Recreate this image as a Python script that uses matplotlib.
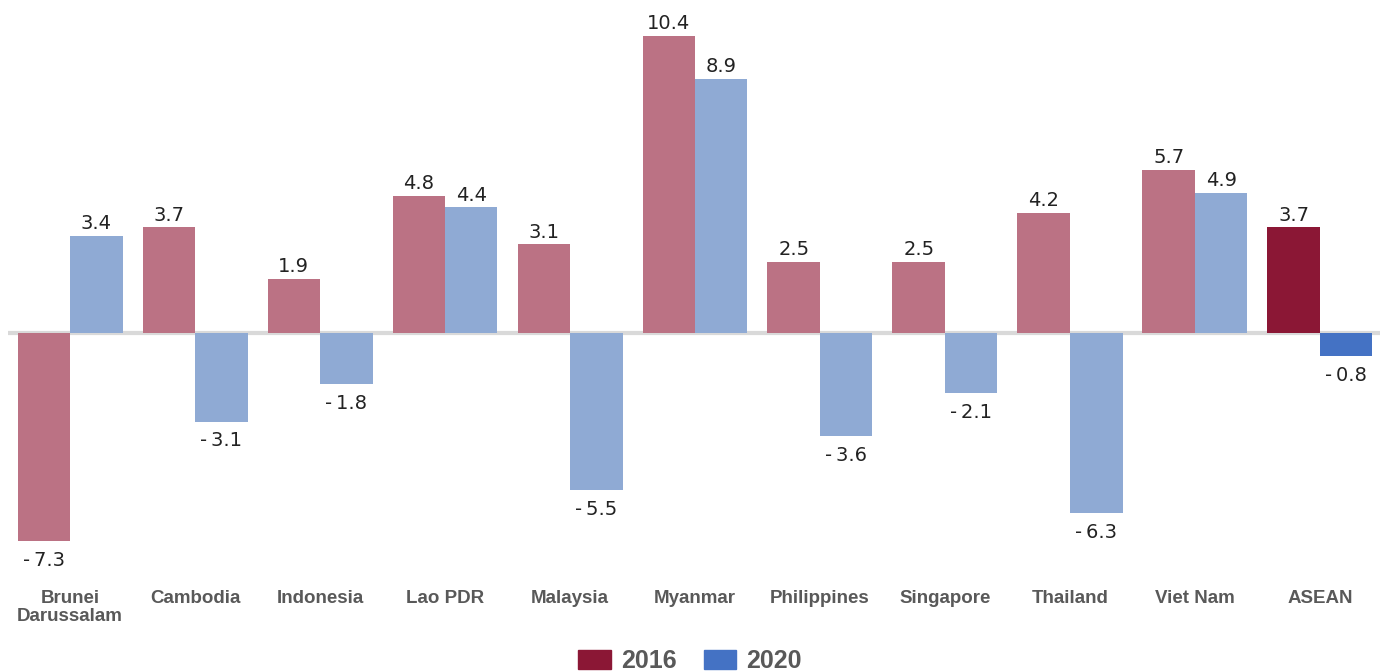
import numpy as np
import matplotlib.pyplot as plt
from matplotlib import font_manager
from matplotlib.patches import Patch

countries = ['Brunei\nDarussalam', 'Cambodia', 'Indonesia', 'Lao PDR', 'Malaysia',
             'Myanmar', 'Philippines', 'Singapore', 'Thailand', 'Viet Nam', 'ASEAN']
v2016 = [-7.3, 3.7, 1.9, 4.8, 3.1, 10.4, 2.5, 2.5, 4.2, 5.7, 3.7]
v2020 = [3.4, -3.1, -1.8, 4.4, -5.5, 8.9, -3.6, -2.1, -6.3, 4.9, -0.8]

red_light, red_dark = '#bb7284', '#8b1735'
blue_light, blue_dark = '#8faad4', '#4472c4'

# narrow font for the category labels if one is around
installed = {f.name for f in font_manager.fontManager.ttflist}
label_font = 'Liberation Sans Narrow' if 'Liberation Sans Narrow' in installed else 'Liberation Sans'
label_size = 15 if label_font == 'Liberation Sans Narrow' else 13.5

fig = plt.figure(figsize=(13.8, 6.71), dpi=100)
ax = fig.add_axes([7.5 / 1380, 1 - 560 / 671, 1375 / 1380, 560 / 671])

x = np.arange(len(countries))
w = 0.42
c16 = [red_light] * (len(countries) - 1) + [red_dark]
c20 = [blue_light] * (len(countries) - 1) + [blue_dark]
b1 = ax.bar(x - w / 2, v2016, w, color=c16, zorder=2)
b2 = ax.bar(x + w / 2, v2020, w, color=c20, zorder=2)
ax.axhline(0, color='#d9d9d9', lw=3, zorder=1)

for bars, vals in ((b1, v2016), (b2, v2020)):
    for b, v in zip(bars, vals):
        xc = b.get_x() + b.get_width() / 2
        if v >= 0:
            ax.annotate(f'{v:.1f}', (xc, v), xytext=(0, 2), textcoords='offset points',
                        ha='center', va='bottom', fontsize=14, color='#222222',
                        family='DejaVu Sans')
        else:
            ax.annotate(f'{v:.1f}'.replace('-', '-\u2009'), (xc, v), xytext=(0, -7),
                        textcoords='offset points', ha='center', va='top',
                        fontsize=14, color='#222222', family='DejaVu Sans')

ax.set_xlim(-0.5, len(countries) - 0.5)
ax.set_ylim(-(560 - 333) / 28.56, 333 / 28.56)
ax.set_xticks([])
ax.set_yticks([])
for s in ax.spines.values():
    s.set_visible(False)

for i, name in enumerate(countries):
    fig.text((7.5 + 125 * (i + 0.5)) / 1380, 1 - 590 / 671, name, ha='center', va='top',
             fontsize=label_size, fontweight='bold', color='#595959', linespacing=1.1,
             family=label_font)

handles = [Patch(color=red_dark, label='2016'), Patch(color=blue_dark, label='2020')]
fig.legend(handles=handles, loc='center', bbox_to_anchor=(0.5, 1 - 661 / 671), ncol=2,
           frameon=False, handlelength=1.3, handleheight=0.8, handletextpad=0.4,
           columnspacing=1.1, prop={'size': 18, 'weight': 'bold', 'family': 'Liberation Sans'},
           labelcolor='#595959')

fig.savefig('out.png', dpi=100)
